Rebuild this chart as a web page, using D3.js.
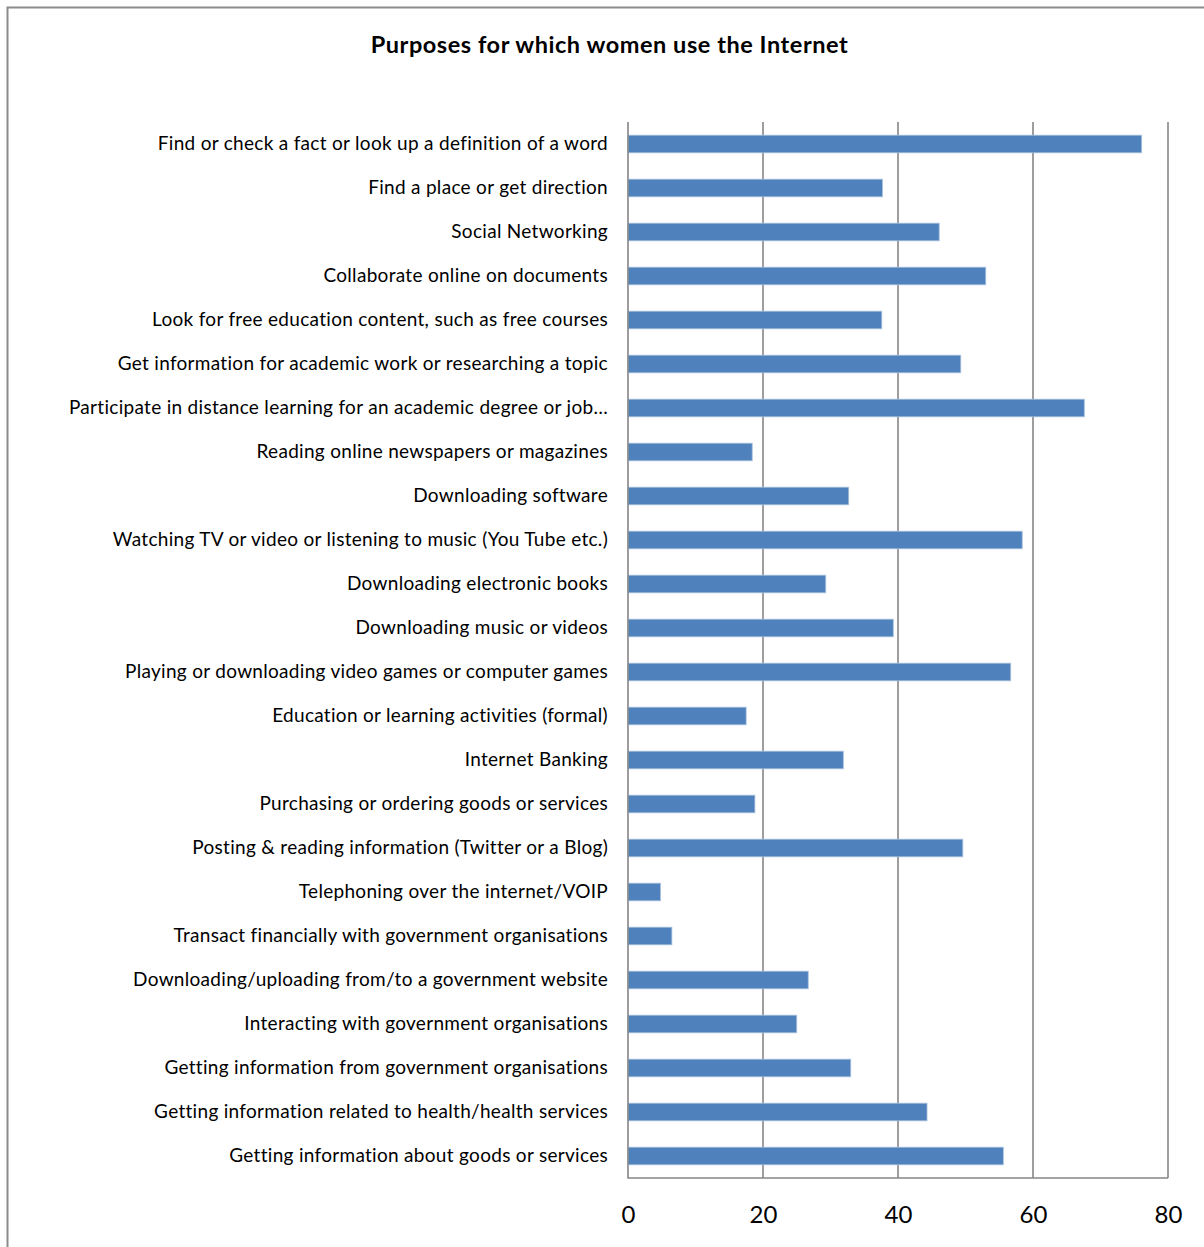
<!DOCTYPE html>
<html>
<head>
<meta charset="utf-8">
<script src="https://cdn.jsdelivr.net/npm/d3@7"></script>
<style>
  html, body { margin: 0; padding: 0; background: #fff; }
  svg { display: block; }
  text { font-family: Lato, "Open Sans", sans-serif; fill: #000; }
</style>
</head>
<body>
<svg id="chart" width="1204" height="1247"></svg>
<script>
// Share of women using the Internet for each purpose (%)
const categories = [
  "Find or check a fact or look up a definition of a word",
  "Find a place or get direction",
  "Social Networking",
  "Collaborate online on documents",
  "Look for free education content, such as free courses",
  "Get information for academic work or researching a topic",
  "Participate in distance learning for an academic degree or job…",
  "Reading online newspapers or magazines",
  "Downloading software",
  "Watching TV or video or listening to music (You Tube etc.)",
  "Downloading electronic books",
  "Downloading music or videos",
  "Playing or downloading video games or computer games",
  "Education or learning activities (formal)",
  "Internet Banking",
  "Purchasing or ordering goods or services",
  "Posting & reading information (Twitter or a Blog)",
  "Telephoning over the internet/VOIP",
  "Transact financially with government organisations",
  "Downloading/uploading from/to a government website",
  "Interacting with government organisations",
  "Getting information from government organisations",
  "Getting information related to health/health services",
  "Getting information about goods or services"
];
const values = [
  76.1, 37.7, 46.1, 53.0, 37.6, 49.3, 67.6, 18.4, 32.7, 58.4, 29.3, 39.3,
  56.7, 17.5, 31.9, 18.8, 49.6, 4.8, 6.5, 26.7, 25.0, 33.0, 44.3, 55.6
];
const xTicks = [0, 20, 40, 60, 80];
const title = "Purposes for which women use the Internet";

const svg = d3.select("#chart");
const W = 1204, H = 1247;
const plot = { left: 628, right: 1168, top: 122, bottom: 1178 };

// outer chart frame (left and top edges visible)
svg.append("path")
  .attr("d", `M7.5,${H} V7.5 H${W}`)
  .attr("fill", "none")
  .attr("stroke", "#8c8c8c")
  .attr("stroke-width", 2);

svg.append("text")
  .attr("x", 609.5)
  .attr("y", 53)
  .attr("text-anchor", "middle")
  .attr("font-size", 23.5)
  .attr("font-weight", "bold")
  .attr("letter-spacing", 0.55)
  .text(title);

const x = d3.scaleLinear().domain([0, 80]).range([plot.left, plot.right]);
const y = d3.scaleBand().domain(categories).range([plot.top, plot.bottom]).paddingInner(0.6).paddingOuter(0.3);

// vertical gridlines
svg.append("g")
  .selectAll("line")
  .data(xTicks.slice(1))
  .join("line")
  .attr("x1", d => x(d)).attr("x2", d => x(d))
  .attr("y1", plot.top).attr("y2", plot.bottom)
  .attr("stroke", "#868686")
  .attr("stroke-width", 1.6);

// bars
svg.append("g")
  .selectAll("rect")
  .data(values)
  .join("rect")
  .attr("x", x(0))
  .attr("y", (d, i) => y(categories[i]))
  .attr("width", d => x(d) - x(0))
  .attr("height", y.bandwidth())
  .attr("fill", "#4f81bd")
  .attr("stroke", "#a7c0de")
  .attr("stroke-width", 0.8);

// axis lines
svg.append("path")
  .attr("d", `M${plot.left},${plot.top} V${plot.bottom} H${plot.right}`)
  .attr("fill", "none")
  .attr("stroke", "#868686")
  .attr("stroke-width", 1.6);

// category axis labels
const yAxis = d3.axisLeft(y).tickSize(0).tickPadding(20);
const gy = svg.append("g").attr("transform", `translate(${plot.left},0)`).call(yAxis);
gy.select(".domain").remove();
gy.selectAll("text")
  .attr("font-size", 19)
  .attr("letter-spacing", 0.3)
  .attr("font-family", "Lato, 'Open Sans', sans-serif")
  .attr("fill", "#000");

// value axis labels
const xAxis = d3.axisBottom(x).tickValues(xTicks).tickSize(0).tickPadding(28);
const gx = svg.append("g").attr("transform", `translate(0,${plot.bottom})`).call(xAxis);
gx.select(".domain").remove();
gx.selectAll("text")
  .attr("font-size", 24)
  .attr("font-family", "Lato, 'Open Sans', sans-serif")
  .attr("fill", "#000");
</script>
</body>
</html>
